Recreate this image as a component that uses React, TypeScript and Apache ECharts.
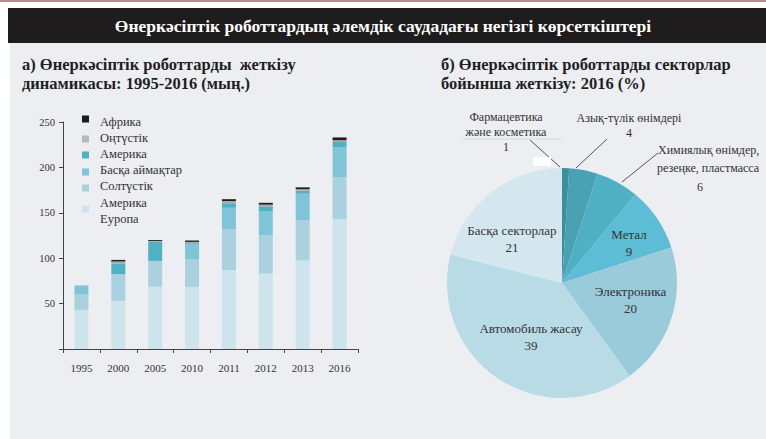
import React, { useEffect, useRef } from "react";
import * as echarts from "echarts";

const years = ["1995", "2000", "2005", "2010", "2011", "2012", "2013", "2016"];
const europe = [43, 53, 68.5, 68.5, 87, 83, 97.5, 143];
const northAmerica = [17, 29.5, 28.5, 30, 45, 42.5, 44, 46];
const otherRegions = [10, 0, 0, 16.5, 23.5, 26.5, 29.5, 33];
const america = [0, 11.7, 21, 1.5, 5, 5, 3.5, 6];
const south = [0, 2.2, 1, 1.5, 2.5, 2, 1.5, 2];
const africa = [0, 1.7, 1, 1.5, 2, 2, 2, 3];
const yTicks = [50, 100, 150, 200, 250];

const legendTexts = ["Африка", "Оңтүстік", "Америка", "Басқа аймақтар", "Солтүстік", "Америка", "Еуропа"];

const sectorNames = ["Фармацевтика және косметика", "Азық-түлік өнімдері", "Химиялық өнімдер, резеңке, пластмасса", "Метал", "Электроника", "Автомобиль жасау", "Басқа секторлар"];
const sectorShort = ["", "", "", "Метал", "Электроника", "Автомобиль жасау", "Басқа секторлар"];
const sectorValues = [1, 4, 6, 9, 20, 39, 21];

const SERIF = "'Liberation Serif', 'DejaVu Serif', serif";

export default function App() {
  const ref = useRef<HTMLDivElement>(null);
  useEffect(() => {
    document.body.style.margin = "0";
    const chart = echarts.init(ref.current!, null, { renderer: "svg" });
    const barColors = ["#cde4ec", "#a9d2de", "#7fc5d7", "#4fb2c4", "#a8a8a8", "#1e1e1e"];
    const sectorColors = ["#3c8f9e", "#4aa1b2", "#4fb0c3", "#5cbdd4", "#99cbdb", "#b9dbe5", "#d4e7ef"];
    const barData = [europe, northAmerica, otherRegions, america, south, africa];
    const barNames = ["Еуропа", "Солтүстік Америка", "Басқа аймақтар", "Америка", "Оңтүстік", "Африка"];
    const labelOffsets = [[0, 0], [0, 0], [0, 0], [17, -6], [11, -2], [3, 4], [-13, 4]];
    const legendSquareY = [119, 139, 155, 172, 188, 209];
    const legendSquareColors = ["#1a1a1a", "#b8b8b8", "#4fb2c4", "#7fc5d7", "#a9d2de", "#cde4ec"];
    const small = `12px ${SERIF}`;

    const graphics: any[] = [
      { type: "rect", shape: { x: 0, y: 0, width: 766, height: 2 }, style: { fill: "#b58e8e" }, z: -10 },
      { type: "rect", shape: { x: 10, y: 43, width: 756, height: 396 }, style: { fill: "#eceef2" }, z: -10 },
      { type: "rect", shape: { x: 8, y: 8, width: 758, height: 35 }, style: { fill: "#1e1c1c" }, z: -5 },
      {
        type: "text", x: 383, y: 26,
        style: { text: "Өнеркәсіптік роботтардың әлемдік саудадағы негізгі көрсеткіштері", fill: "#ffffff", font: `bold 17.5px ${SERIF}`, align: "center", verticalAlign: "middle" },
      },
      {
        type: "text", x: 22, y: 55,
        style: { text: "а) Өнеркәсіптік роботтарды  жеткізу\nдинамикасы: 1995-2016 (мың.)", fill: "#1f1f1f", font: `bold 16.5px ${SERIF}`, lineHeight: 19 },
      },
      {
        type: "text", x: 441, y: 55,
        style: { text: "б) Өнеркәсіптік роботтарды секторлар\nбойынша жеткізу: 2016 (%)", fill: "#1f1f1f", font: `bold 16.5px ${SERIF}`, lineHeight: 19 },
      },
      // pie outer labels
      { type: "text", x: 506, y: 109, style: { text: "Фармацевтика\nжәне косметика\n1", fill: "#333", font: small, align: "center", lineHeight: 15 } },
      { type: "line", shape: { x1: 462, y1: 139, x2: 562, y2: 139 }, style: { stroke: "#c9dbe4", lineWidth: 1 } },
      { type: "line", shape: { x1: 530, y1: 140, x2: 560, y2: 167 }, style: { stroke: "#555", lineWidth: 1 } },
      { type: "text", x: 629, y: 110, style: { text: "Азық-түлік өнімдері\n4", fill: "#333", font: small, align: "center", lineHeight: 15 } },
      { type: "line", shape: { x1: 607, y1: 139, x2: 576, y2: 168 }, style: { stroke: "#555", lineWidth: 1 } },
      { type: "text", x: 658, y: 144, style: { text: "Химиялық өнімдер,", fill: "#333", font: small } },
      { type: "text", x: 657, y: 162, style: { text: "резеңке, пластмасса", fill: "#333", font: small } },
      { type: "text", x: 700, y: 181, style: { text: "6", fill: "#333", font: small, align: "center" } },
      { type: "line", shape: { x1: 658, y1: 153, x2: 622, y2: 182 }, style: { stroke: "#555", lineWidth: 1 } },
      { type: "rect", shape: { x: 533, y: 157, width: 18, height: 9 }, style: { fill: "#ffffff" }, z: 20 },
    ];
    legendTexts.forEach((t, i) => {
      graphics.push({ type: "text", x: 100, y: 115 + i * 16.2, style: { text: t, fill: "#333", font: `12.5px ${SERIF}` } });
    });
    legendSquareY.forEach((y, i) => {
      graphics.push({ type: "rect", shape: { x: 82, y: y - 3.5, width: 7, height: 7 }, style: { fill: legendSquareColors[i] } });
    });

    chart.setOption({
      animation: false,
      backgroundColor: "#ffffff",
      textStyle: { fontFamily: SERIF },
      grid: { left: 63, top: 122, width: 295, height: 227 },
      xAxis: {
        type: "category",
        data: years,
        axisLine: { lineStyle: { color: "#444", width: 1 } },
        axisTick: { show: true, length: 4, lineStyle: { color: "#444" } },
        axisLabel: { color: "#333", fontSize: 11, fontFamily: SERIF, margin: 13 },
      },
      yAxis: {
        type: "value",
        min: 0,
        max: 250,
        interval: 50,
        splitLine: { show: false },
        axisLine: { show: true, lineStyle: { color: "#444", width: 1 } },
        axisTick: { show: true, length: 4, lineStyle: { color: "#444" } },
        axisLabel: {
          color: "#333", fontSize: 10.5, fontFamily: SERIF, margin: 8,
          formatter: (v: number) => (yTicks.includes(v) ? String(v) : ""),
        },
      },
      series: [
        ...barData.map((d, i) => ({
          type: "bar",
          name: barNames[i],
          stack: "total",
          data: d,
          barWidth: 14,
          itemStyle: { color: barColors[i] },
        })),
        {
          type: "pie",
          center: [562, 283],
          radius: [0, 115],
          startAngle: 90,
          clockwise: true,
          data: sectorValues.map((v, i) => ({
            name: sectorNames[i],
            value: v,
            itemStyle: { color: sectorColors[i] },
            label: { show: sectorShort[i] !== "" },
          })),
          label: {
            position: "inside",
            formatter: (p: any) => `${sectorShort[p.dataIndex]}\n${p.value}`,
            color: "#333",
            fontSize: 13,
            fontFamily: SERIF,
            lineHeight: 17,
          },
          labelLayout: (p: any) => ({ dx: labelOffsets[p.dataIndex][0], dy: labelOffsets[p.dataIndex][1] }),
          labelLine: { show: false },
          itemStyle: { borderWidth: 0 },
          emphasis: { disabled: true },
        },
      ],
      graphic: graphics,
    });
    return () => chart.dispose();
  }, []);
  return <div ref={ref} style={{ position: "absolute", left: 0, top: 0, width: 766, height: 439 }} />;
}
